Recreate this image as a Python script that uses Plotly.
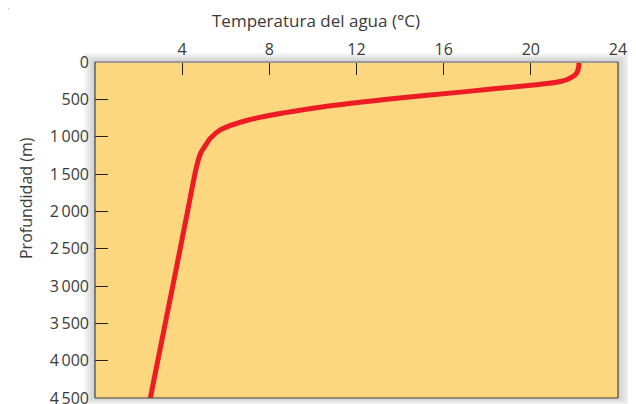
import plotly.graph_objects as go

# Data
depth_m = [0, 60, 150, 230, 275, 310, 400, 500, 620, 780, 910, 1020, 1130, 1220, 1400, 2000, 3000, 4000, 4500]
temp_c = [22.2, 22.2, 22.1, 21.7, 21.1, 20.0, 16.9, 13.4, 10.0, 7.0, 5.75, 5.3, 5.04, 4.85, 4.66, 4.25, 3.57, 2.88, 2.54]

x_ticks = [4, 8, 12, 16, 20, 24]
y_ticks = [0, 500, 1000, 1500, 2000, 2500, 3000, 3500, 4000, 4500]
y_ticktext = ["0", "500", "1\u2009000", "1\u2009500", "2\u2009000", "2\u2009500",
              "3\u2009000", "3\u2009500", "4\u2009000", "4\u2009500"]

x_title = "Temperatura del agua (°C)"
y_title = "Profundidad (m)"

W, H = 636, 404
OFF = 8  # page offset of the figure (body margin)
# plot area in page pixels
PL, PR, PT, PB = 95, 618, 62, 398
L, T = PL - OFF, PT - OFF
R, B = W - (PR - OFF), H - (PB - OFF)
pw, ph = PR - PL, PB - PT

def px(x):
    return (x - PL) / pw

def py(y):
    return (PB - y) / ph

FONT = "Open Sans"
TXT = "#3a3a3a"

fig = go.Figure()
fig.add_trace(go.Scatter(
    x=temp_c, y=depth_m, mode="lines",
    line=dict(color="#ED1C24", width=5, shape="spline", smoothing=0.8),
    hoverinfo="skip", showlegend=False,
))

shapes = []
# soft shadow around the plot area
for k in range(1, 13):
    shapes.append(dict(type="rect", xref="paper", yref="paper", layer="below",
                       x0=px(PL - k), x1=px(PR + k * 1.1),
                       y0=py(PB + k * 0.6), y1=py(PT - k * 0.8),
                       line=dict(width=0), fillcolor="rgba(0,0,0,0.016)"))
# plot background
shapes.append(dict(type="rect", xref="paper", yref="paper", layer="below",
                   x0=0, x1=1, y0=0, y1=1, line=dict(width=0), fillcolor="#FDD77F"))
# frame
shapes.append(dict(type="line", xref="paper", yref="paper", x0=0, x1=1, y0=1, y1=1,
                   line=dict(color="#9a9a9a", width=2)))
shapes.append(dict(type="line", xref="paper", yref="paper", x0=0, x1=0, y0=0, y1=1,
                   line=dict(color="#444444", width=1.2)))
shapes.append(dict(type="line", xref="paper", yref="paper", x0=1, x1=1, y0=0, y1=1,
                   line=dict(color="#4a4030", width=1.2)))
shapes.append(dict(type="line", xref="paper", yref="paper", x0=0, x1=1, y0=0, y1=0,
                   line=dict(color="#4a4030", width=1.2)))
# decorative corner tab
shapes.append(dict(type="path", xref="paper", yref="paper", layer="above",
                   path=f"M {px(0)},{py(0)} L {px(7)},{py(0)} L {px(12)},{py(5)} L {px(0)},{py(19)} Z",
                   line=dict(width=0), fillcolor="#b5b5b5"))

fig.update_layout(
    width=W, height=H,
    margin=dict(l=L, r=R, t=T, b=B, autoexpand=False),
    paper_bgcolor="white", plot_bgcolor="rgba(0,0,0,0)",
    font=dict(family=FONT, size=16, color=TXT),
    shapes=shapes,
    xaxis=dict(range=[0, 24], side="top", tickvals=x_ticks, ticks="inside", ticklen=13,
               tickcolor="#222", tickwidth=1, showgrid=False, zeroline=False,
               showline=False, tickfont=dict(size=16, color=TXT), fixedrange=True,
               ticklabelstandoff=3, automargin=False),
    yaxis=dict(range=[4500, 0], tickvals=y_ticks, ticktext=y_ticktext, ticks="inside",
               ticklen=13, tickcolor="#222", tickwidth=1, showgrid=False, zeroline=False,
               showline=False, tickfont=dict(size=16, color=TXT), fixedrange=True,
               ticklabelstandoff=5, automargin=False),
    annotations=[
        dict(text=x_title, xref="paper", yref="paper", x=px(316), y=py(20),
             showarrow=False, font=dict(size=17, color=TXT), xanchor="center", yanchor="middle"),
        dict(text=y_title, xref="paper", yref="paper", x=px(26), y=py(198),
             showarrow=False, textangle=-90, font=dict(size=16, color=TXT),
             xanchor="center", yanchor="middle"),
    ],
)

fig.write_html("out.html")
